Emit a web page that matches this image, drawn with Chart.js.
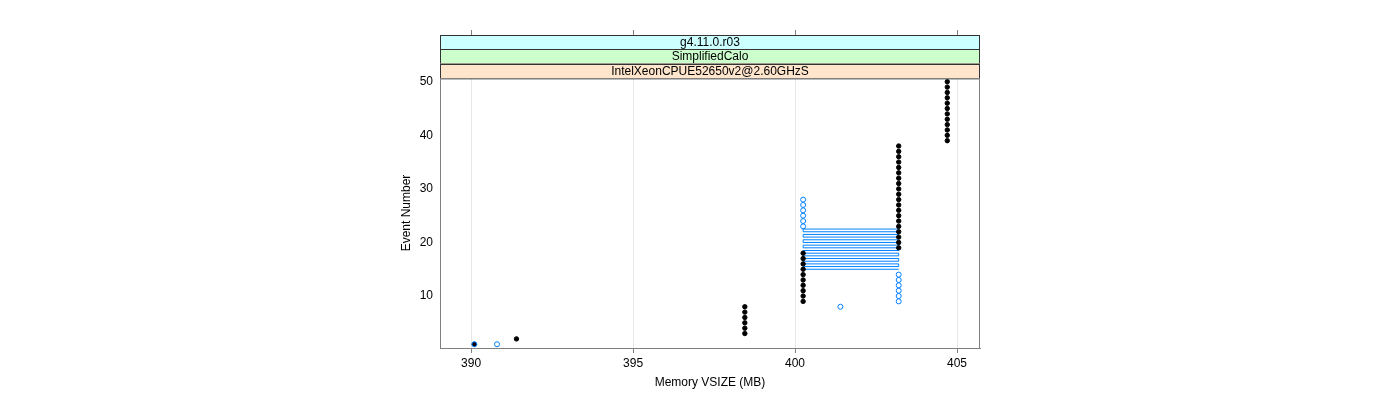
<!DOCTYPE html>
<html>
<head>
<meta charset="utf-8">
<script src="https://cdn.jsdelivr.net/npm/chart.js@4.4.1/dist/chart.umd.min.js"></script>
<style>
  html, body { margin: 0; padding: 0; background: #fff; }
  canvas { display: block; }
</style>
</head>
<body>
<canvas id="chart" width="1400" height="400"></canvas>
<script>
/* ── Data ─────────────────────────────────────────────────── */
const xTicks = [390, 395, 400, 405];
const yTicks = [10, 20, 30, 40, 50];
const stripLabels = ['g4.11.0.r03', 'SimplifiedCalo', 'IntelXeonCPUE52650v2@2.60GHzS'];
const stripColors = ['#ccffff', '#ccffcc', '#ffe5cc'];

// black series: filled dots, one per event
const blackEvt = [1, 2, 3, 4, 5, 6, 7, 8, 9, 10, 11, 12, 13, 14, 15, 16, 17, 18, 19, 20,
  21, 22, 23, 24, 25, 26, 27, 28, 29, 30, 31, 32, 33, 34, 35, 36, 37, 38, 39, 40,
  41, 42, 43, 44, 45, 46, 47, 48, 49, 50];
const blackMem = [390.1, 391.4, 398.45, 398.45, 398.45, 398.45, 398.45, 398.45,
  400.25, 400.25, 400.25, 400.25, 400.25, 400.25, 400.25, 400.25, 400.25, 400.25,
  403.2, 403.2, 403.2, 403.2, 403.2, 403.2, 403.2, 403.2, 403.2, 403.2,
  403.2, 403.2, 403.2, 403.2, 403.2, 403.2, 403.2, 403.2, 403.2, 403.2,
  404.7, 404.7, 404.7, 404.7, 404.7, 404.7, 404.7, 404.7, 404.7, 404.7, 404.7, 404.7];

// blue series: open circles
const blueEvt = [1, 1, 8, 9, 10, 11, 12, 13, 14, 23, 24, 25, 26, 27, 28];
const blueMem = [390.1, 390.8, 401.4, 403.2, 403.2, 403.2, 403.2, 403.2, 403.2,
  400.25, 400.25, 400.25, 400.25, 400.25, 400.25];

// blue connecting line (back and forth between the two columns)
const lineEvt = [15, 15, 15.5, 15.5, 16, 16, 16.5, 16.5, 17, 17, 17.5, 17.5, 18, 18, 18.5, 18.5,
  19, 19, 19.5, 19.5, 20, 20, 20.5, 20.5, 21, 21, 21.5, 21.5, 22, 22, 22.5, 22.5];
const lineMem = [403.2, 400.25, 400.25, 403.2, 403.2, 400.25, 400.25, 403.2,
  403.2, 400.25, 400.25, 403.2, 403.2, 400.25, 400.25, 403.2,
  403.2, 400.25, 400.25, 403.2, 403.2, 400.25, 400.25, 403.2,
  403.2, 400.25, 400.25, 403.2, 403.2, 400.25, 400.25, 403.2];

const toPts = (xs, ys) => xs.map((x, i) => ({ x, y: ys[i] }));

const FONT = 'Liberation Sans, Arial, Helvetica, sans-serif';
const AXIS_COL = '#808080';
const BLUE = '#0080ff';

/* ── Strips + frame + top ticks ───────────────────────────── */
const latticePlugin = {
  id: 'lattice',
  afterDraw(chart) {
    const { ctx, chartArea: a, scales } = chart;
    const stripTop = 35, stripH = (a.top - stripTop) / stripLabels.length;
    ctx.save();
    ctx.font = '12px ' + FONT;
    ctx.textAlign = 'center';
    ctx.textBaseline = 'middle';
    stripLabels.forEach((lab, i) => {
      const y = stripTop + i * stripH;
      ctx.fillStyle = stripColors[i];
      ctx.fillRect(a.left, y, a.right - a.left, stripH);
      ctx.strokeStyle = '#333';
      ctx.lineWidth = 1;
      ctx.strokeRect(a.left + 0.5, Math.round(y) + 0.5, a.right - a.left - 1, stripH);
      ctx.fillStyle = '#000';
      ctx.fillText(lab, (a.left + a.right) / 2, y + stripH / 2 + 0.5);
    });
    // panel frame
    ctx.strokeStyle = AXIS_COL;
    ctx.strokeRect(a.left + 0.5, a.top + 0.5, a.right - a.left - 1, a.bottom - a.top);
    // top ticks
    ctx.beginPath();
    xTicks.forEach(v => {
      const px = Math.round(scales.x.getPixelForValue(v)) + 0.5;
      ctx.moveTo(px, stripTop);
      ctx.lineTo(px, stripTop - 5);
    });
    ctx.stroke();
    ctx.restore();
  }
};

new Chart(document.getElementById('chart'), {
  type: 'scatter',
  data: {
    datasets: [
      {
        label: 'blue',
        data: toPts(blueMem, blueEvt),
        pointRadius: 2.5,
        borderWidth: 1,
        borderColor: BLUE,
        backgroundColor: 'rgba(0,0,0,0)',
      },
      {
        label: 'black',
        data: toPts(blackMem, blackEvt),
        pointRadius: 2.2,
        borderWidth: 1,
        borderColor: '#000',
        backgroundColor: '#000',
      },
      {
        label: 'blue line',
        data: toPts(lineMem, lineEvt),
        showLine: true,
        pointRadius: 0,
        borderWidth: 1,
        borderColor: BLUE,
        backgroundColor: BLUE,
        tension: 0,
      }
    ]
  },
  options: {
    responsive: false,
    animation: false,
    layout: { padding: { left: 380, right: 420, top: 78, bottom: 0 } },
    plugins: { legend: { display: false }, tooltip: { enabled: false } },
    scales: {
      x: {
        type: 'linear',
        min: 389.04, max: 405.71,
        afterBuildTicks: s => { s.ticks = xTicks.map(v => ({ value: v })); },
        afterFit: s => { s.height = 52; },
        grid: { color: '#e6e6e6', tickColor: AXIS_COL, tickLength: 5 },
        border: { display: true, color: AXIS_COL },
        ticks: { color: '#000', font: { family: FONT, size: 12 }, padding: 3, maxRotation: 0 },
        title: {
          display: true, text: 'Memory VSIZE (MB)', color: '#000',
          font: { family: FONT, size: 12 }, padding: { top: 0, bottom: 10 }
        }
      },
      y: {
        type: 'linear',
        min: 0.3, max: 50.7,
        afterBuildTicks: s => { s.ticks = yTicks.map(v => ({ value: v })); },
        afterFit: s => { s.width = 60; },
        grid: { display: false, drawTicks: false },
        border: { display: true, color: AXIS_COL },
        ticks: { color: '#000', font: { family: FONT, size: 12 }, padding: 7 },
        title: {
          display: true, text: 'Event Number', color: '#000',
          font: { family: FONT, size: 12 }, padding: { top: 19, bottom: 0 }
        }
      }
    }
  },
  plugins: [latticePlugin]
});
</script>
</body>
</html>
